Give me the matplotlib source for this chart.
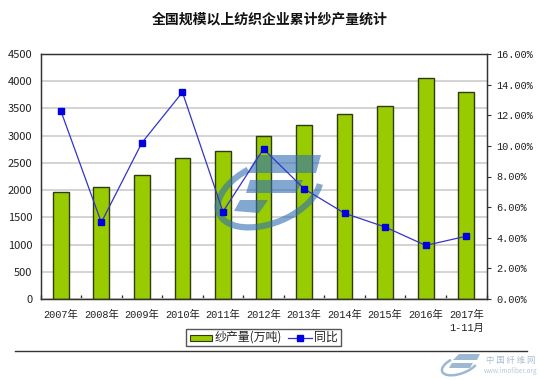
import numpy as np
import matplotlib
matplotlib.use('Agg')
import matplotlib.pyplot as plt
from matplotlib.patches import Arc, Polygon, Rectangle
from matplotlib.lines import Line2D

plt.rcParams['font.family'] = ['Noto Sans CJK SC', 'DejaVu Sans']
mono = ['Liberation Mono', 'Noto Sans CJK SC']

years = ['2007年', '2008年', '2009年', '2010年', '2011年', '2012年', '2013年',
         '2014年', '2015年', '2016年', '2017年\n1-11月']
output = [1960, 2060, 2270, 2590, 2720, 2990, 3200, 3390, 3550, 4050, 3800]
growth = [12.3, 5.0, 10.2, 13.5, 5.7, 9.8, 7.2, 5.6, 4.7, 3.5, 4.1]
left_ticks = [0, 500, 1000, 1500, 2000, 2500, 3000, 3500, 4000, 4500]
right_ticks = [0, 2, 4, 6, 8, 10, 12, 14, 16]

W, H = 540, 380
LOGO = '#2f6fb5'
fig = plt.figure(figsize=(W/100, H/100), dpi=100)
ax = fig.add_axes([40.5/W, 1-299/H, 446/W, 245/H], zorder=1)
x = np.arange(len(years))

ax.bar(x, output, width=0.39, color='#99CC00', edgecolor='#2f3a10', linewidth=1, zorder=2)
ax.set_xlim(-0.5, 10.5)
ax.set_ylim(0, 4500)
ax.set_yticks(left_ticks)
ax.set_xticks(np.arange(-0.5, 10.6, 1))
ax.set_xticklabels([])
ax.tick_params(axis='x', direction='in', length=3, color='#333333', width=1)
ax.tick_params(axis='y', direction='out', length=0, labelsize=8, labelcolor='#222222', pad=6)
ax.yaxis.grid(True, color='#d0d0d0', linewidth=1.3, zorder=0)
ax.set_axisbelow(True)
for s in ax.spines.values():
    s.set_color('#333333')
    s.set_linewidth(1)
for i, lab in enumerate(years):
    ax.annotate(lab, (i, 0), xytext=(0, -8.2), textcoords='offset points', ha='center', va='top',
                fontsize=7.4, family=mono, color='#222222', linespacing=1.25)

# watermark logo goes between the bars and the line
wm = fig.add_axes([0, 0, 1, 1], facecolor='none', zorder=2)
wm.set_xlim(0, W)
wm.set_ylim(H, 0)
wm.axis('off')
wm.add_patch(Arc((269, 193), 108, 60, angle=-22, theta1=12, theta2=250,
                 edgecolor=LOGO, linewidth=4.5, alpha=0.6))
wm.add_patch(Polygon([[258, 155], [321, 155], [316, 173], [247, 173]], closed=True, color=LOGO, alpha=0.6, lw=0))
wm.add_patch(Polygon([[250, 180], [303, 180], [296, 193], [246, 193]], closed=True, color=LOGO, alpha=0.6, lw=0))
wm.add_patch(Polygon([[240, 200], [268, 200], [259, 213], [234, 211]], closed=True, color=LOGO, alpha=0.6, lw=0))

ax2 = ax.twinx()
ax2.set_zorder(3)
ax2.set_xlim(-0.5, 10.5)
ax2.set_ylim(0, 16)
ax2.set_yticks(right_ticks)
ax2.set_yticklabels(['%.2f%%' % v for v in right_ticks], family=mono)
ax2.tick_params(axis='y', direction='out', length=3, labelsize=7.4, color='#333333', labelcolor='#222222', pad=4)
ax2.plot(x, growth, color='#3333cc', linewidth=0.9, marker='s', markersize=4.5,
         markerfacecolor='#0000e0', markeredgecolor='#0000e0', zorder=5)
for s in ax2.spines.values():
    s.set_color('#333333')

ov = fig.add_axes([0, 0, 1, 1], facecolor='none', zorder=4)
ov.set_xlim(0, W)
ov.set_ylim(H, 0)
ov.axis('off')

# small logo and site name bottom right
ov.add_patch(Arc((460, 365), 38, 17, angle=-20, theta1=20, theta2=230, edgecolor='#9db8d4', linewidth=1.8))
ov.add_patch(Polygon([[459, 354], [480, 354], [477, 360], [453, 360]], closed=True, color='#9db8d4', lw=0))
ov.add_patch(Polygon([[452, 363], [473, 363], [470, 368], [449, 368]], closed=True, color='#9db8d4', lw=0))
ov.text(511, 361, '中 国 纤 维 网', fontsize=6, color='#a8bdd2', ha='center', va='center')
ov.text(511, 371, 'www.imofiber.org', fontsize=4.5, color='#b5c6d8', ha='center', va='center')

# title, bottom rule, legend
ov.text(270, 20, '全国规模以上纺织企业累计纱产量统计', fontsize=10, fontweight='bold',
        color='#111111', ha='center', va='center')
ov.add_line(Line2D([15, 527], [351, 351], color='#333333', linewidth=1))
ov.add_patch(Rectangle((186, 329), 155, 17, facecolor='white', edgecolor='#555555', linewidth=1))
ov.add_patch(Rectangle((190, 335), 22, 6, facecolor='#99CC00', edgecolor='#2f3a10', linewidth=0.8))
ov.text(215, 337.5, '纱产量(万吨)', fontsize=8.6, color='#222222', va='center')
ov.add_line(Line2D([288, 312], [338, 338], color='#3333cc', linewidth=0.9))
ov.add_line(Line2D([299.5], [338], color='#0000e0', marker='s', markersize=4.5))
ov.text(314, 337.5, '同比', fontsize=8.6, color='#222222', va='center')

fig.savefig('out.png', dpi=100)
